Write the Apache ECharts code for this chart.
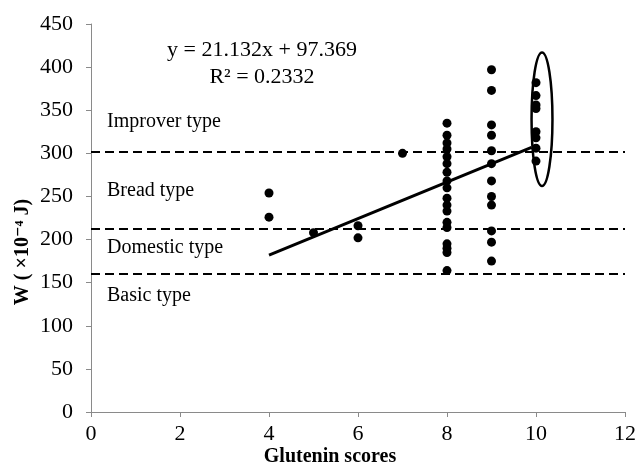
<!DOCTYPE html>
<html><head><meta charset="utf-8">
<script src="https://cdn.jsdelivr.net/npm/echarts@6/dist/echarts.min.js"></script>
<style>html,body{margin:0;padding:0;background:#fff}#c{width:639px;height:469px}</style>
</head><body><div id="c"></div>
<script>
// ---- data ----
const gluteninScores = [4, 5, 6, 7, 8, 9, 10];
const wAt4 = [254, 226];
const wAt5 = [208];
const wAt6 = [216, 202];
const wAt7 = [300];
const wAt8 = [335, 321, 312, 305, 296, 288, 278, 268, 260, 248, 240, 233, 220, 214, 195, 190, 185, 164];
const wAt9 = [397, 373, 333, 321, 303, 288, 268, 250, 240, 210, 197, 175];
const wAt10 = [382, 367, 356, 352, 325, 318, 306, 291];
const trendX = [4, 9.9];
const trendY = [182, 307];
const classLevels = [302, 213, 160];
const classNames = ['Improver type', 'Bread type', 'Domestic type', 'Basic type'];
const highlightX = [9.9, 10.37];
const highlightY = [262, 417];
const xTicks = [0, 2, 4, 6, 8, 10, 12];
const yTicks = [0, 50, 100, 150, 200, 250, 300, 350, 400, 450];
const equationText = 'y = 21.132x + 97.369';
const r2Text = 'R² = 0.2332';

const groups = [wAt4, wAt5, wAt6, wAt7, wAt8, wAt9, wAt10];
const points = [];
groups.forEach((g, i) => g.forEach(v => points.push([gluteninScores[i], v])));
const trend = trendX.map((x, i) => [x, trendY[i]]);

const FONT = '"Liberation Serif", "Times New Roman", "DejaVu Serif", serif';
const axisGray = '#8a8a8a';

const chart = echarts.init(document.getElementById('c'), null, {renderer: 'canvas'});
chart.setOption({
  animation: false,
  backgroundColor: '#fff',
  grid: {left: 91, right: 12, top: 24, bottom: 57},
  xAxis: {
    type: 'value', min: xTicks[0], max: xTicks[xTicks.length - 1], interval: xTicks[1] - xTicks[0],
    splitLine: {show: false},
    axisLine: {show: true, lineStyle: {color: axisGray, width: 1}},
    axisTick: {show: true, length: 5, lineStyle: {color: axisGray}},
    axisLabel: {color: '#000', fontFamily: FONT, fontSize: 22, margin: 11}
  },
  yAxis: {
    type: 'value', min: yTicks[0], max: yTicks[yTicks.length - 1], interval: yTicks[1] - yTicks[0],
    splitLine: {show: false},
    axisLine: {show: true, lineStyle: {color: axisGray, width: 1}},
    axisTick: {show: true, length: 5, lineStyle: {color: axisGray}},
    axisLabel: {color: '#000', fontFamily: FONT, fontSize: 22, margin: 18}
  },
  graphic: [
    {type: 'text', x: 262, y: 50, style: {text: equationText, font: '22px ' + FONT, fill: '#000', align: 'center', verticalAlign: 'middle'}},
    {type: 'text', x: 262, y: 77, style: {text: r2Text, font: '22px ' + FONT, fill: '#000', align: 'center', verticalAlign: 'middle'}},
    {type: 'text', x: 107, y: 122, style: {text: classNames[0], font: '20px ' + FONT, fill: '#000', align: 'left', verticalAlign: 'middle'}},
    {type: 'text', x: 107, y: 191, style: {text: classNames[1], font: '20px ' + FONT, fill: '#000', align: 'left', verticalAlign: 'middle'}},
    {type: 'text', x: 107, y: 248, style: {text: classNames[2], font: '20px ' + FONT, fill: '#000', align: 'left', verticalAlign: 'middle'}},
    {type: 'text', x: 107, y: 296, style: {text: classNames[3], font: '20px ' + FONT, fill: '#000', align: 'left', verticalAlign: 'middle'}},
    {type: 'text', x: 330, y: 457, style: {text: 'Glutenin scores', font: 'bold 20px ' + FONT, fill: '#000', align: 'center', verticalAlign: 'middle'}},
    {type: 'text', x: 23, y: 252, rotation: Math.PI / 2, style: {text: 'W ( ×10⁻⁴ J)', font: 'bold 20px ' + FONT, fill: '#000', align: 'center', verticalAlign: 'middle'}}
  ],
  series: [
    {
      type: 'scatter', data: points, symbol: 'circle', symbolSize: 9,
      itemStyle: {color: '#000', opacity: 1}, z: 5,
      markLine: {
        silent: true, symbol: ['none', 'none'], label: {show: false},
        lineStyle: {color: '#000', type: [9, 5], width: 2, opacity: 1},
        data: classLevels.map(v => ({yAxis: v}))
      }
    },
    {
      type: 'line', data: trend, showSymbol: false, symbol: 'none',
      lineStyle: {color: '#000', width: 3}, z: 4
    },
    {
      type: 'custom', data: [[highlightX[0], highlightX[1], highlightY[0], highlightY[1]]],
      renderItem: function (params, api) {
        const p1 = api.coord([api.value(0), api.value(3)]);
        const p2 = api.coord([api.value(1), api.value(2)]);
        const cx = (p1[0] + p2[0]) / 2, cy = (p1[1] + p2[1]) / 2;
        const rx = Math.abs(p2[0] - p1[0]) / 2, ry = Math.abs(p2[1] - p1[1]) / 2;
        const d = 'M' + (cx - rx) + ' ' + cy + ' A' + rx + ' ' + ry + ' 0 1 0 ' + (cx + rx) + ' ' + cy +
                  ' A' + rx + ' ' + ry + ' 0 1 0 ' + (cx - rx) + ' ' + cy + ' Z';
        return {type: 'path', shape: {pathData: d}, style: {fill: 'none', stroke: '#000', lineWidth: 2.5}};
      },
      z: 6, silent: true
    }
  ]
});
</script></body></html>
